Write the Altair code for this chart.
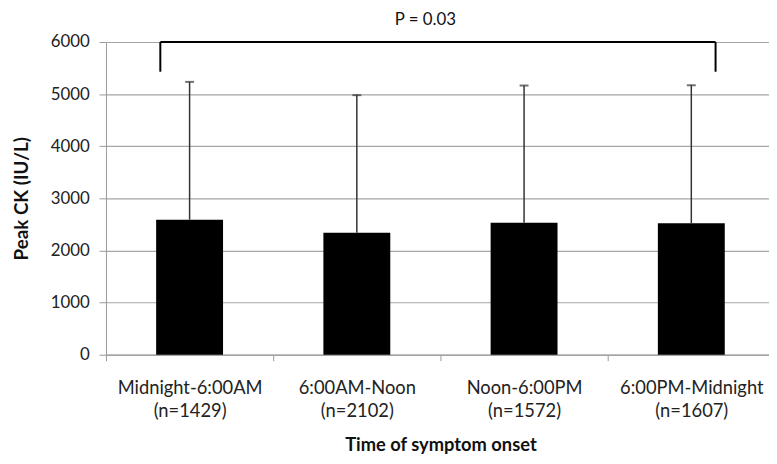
import altair as alt
import pandas as pd

periods = ["Midnight-6:00AM", "6:00AM-Noon", "Noon-6:00PM", "6:00PM-Midnight"]
ns = [1429, 2102, 1572, 1607]
means = [2590, 2340, 2530, 2520]
uppers = [5235, 4980, 5165, 5170]
p_text = "P = 0.03"
bracket_top = 6000
bracket_bottom = 5430

cats = [f"{p}|(n={n})" for p, n in zip(periods, ns)]
df = pd.DataFrame({"cat": cats, "mean": means, "upper": uppers})

FONT = "Lato"

xscale = alt.Scale(domain=cats, range=[0, 676], paddingInner=0, paddingOuter=0)
yscale = alt.Scale(domain=[0, 6000], nice=False)

x_enc = alt.X(
    "cat:N",
    scale=xscale,
    sort=cats,
    title="Time of symptom onset",
    axis=alt.Axis(
        labelExpr="split(datum.label, '|')",
        labelAngle=0,
        labelFont=FONT,
        labelFontSize=18.5,
        labelColor="#222222",
        labelLineHeight=23,
        labelPadding=18,
        tickBand="extent",
        tickSize=6,
        tickColor="#999999",
        domainColor="#999999",
        titleFont=FONT,
        titleFontSize=18.5,
        titleFontWeight="bold",
        titleColor="#111111",
        titlePadding=16,
        grid=False,
    ),
)
y_enc = alt.Y(
    "mean:Q",
    scale=yscale,
    title="Peak CK (IU/L)",
    axis=alt.Axis(
        values=[0, 1000, 2000, 3000, 4000, 5000, 6000],
        format="d",
        labelFont=FONT,
        labelFontSize=17,
        labelColor="#222222",
        labelPadding=10,
        tickSize=7,
        tickColor="#999999",
        domainColor="#999999",
        gridColor="#a6a6a6",
        gridWidth=1.2,
        titleFont=FONT,
        titleFontSize=19,
        titleFontWeight="bold",
        titleColor="#111111",
        titlePadding=19,
    ),
)

base = alt.Chart(df)

bars = base.mark_bar(color="black", width={"band": 0.4}).encode(x=x_enc, y=y_enc)

err = base.mark_rule(color="#333333", strokeWidth=1.5).encode(
    x=alt.X("cat:N", scale=xscale, sort=cats),
    y=alt.Y("mean:Q", scale=yscale),
    y2="upper:Q",
)
caps = base.mark_tick(color="#333333", size=9, thickness=2).encode(
    x=alt.X("cat:N", scale=xscale, sort=cats),
    y=alt.Y("upper:Q", scale=yscale),
)

ann = alt.Chart(pd.DataFrame({"a": [0]}))
left = alt.XDatum(cats[0], bandPosition=0.325, scale=xscale, type="nominal")
right = alt.XDatum(cats[3], bandPosition=0.645, scale=xscale, type="nominal")

bracket_h = ann.mark_rule(color="black", strokeWidth=2).encode(
    x=left,
    x2=alt.X2Datum(cats[3], bandPosition=0.645),
    y=alt.YDatum(bracket_top, scale=yscale, type="quantitative"),
)
bracket_l = ann.mark_rule(color="black", strokeWidth=2).encode(
    x=left,
    y=alt.YDatum(bracket_top, scale=yscale, type="quantitative"),
    y2=alt.Y2Datum(bracket_bottom),
)
bracket_r = ann.mark_rule(color="black", strokeWidth=2).encode(
    x=right,
    y=alt.YDatum(bracket_top, scale=yscale, type="quantitative"),
    y2=alt.Y2Datum(bracket_bottom),
)
ptext = ann.mark_text(font=FONT, fontSize=17, color="#111111", dy=-22, baseline="middle").encode(
    x=alt.XDatum(cats[1], bandPosition=0.91, scale=xscale, type="nominal"),
    y=alt.YDatum(bracket_top, scale=yscale, type="quantitative"),
    text=alt.value(p_text),
)

chart = (
    alt.layer(bars, err, caps, bracket_h, bracket_l, bracket_r, ptext)
    .properties(
        width=670,
        height=316,
        autosize=alt.AutoSizeParams(type="none"),
        padding={"left": 99, "top": 32, "right": 0, "bottom": 100},
        background="white",
    )
    .configure_view(stroke=None)
)

chart.save("out.html", embed_options={"renderer": "svg", "actions": False})
